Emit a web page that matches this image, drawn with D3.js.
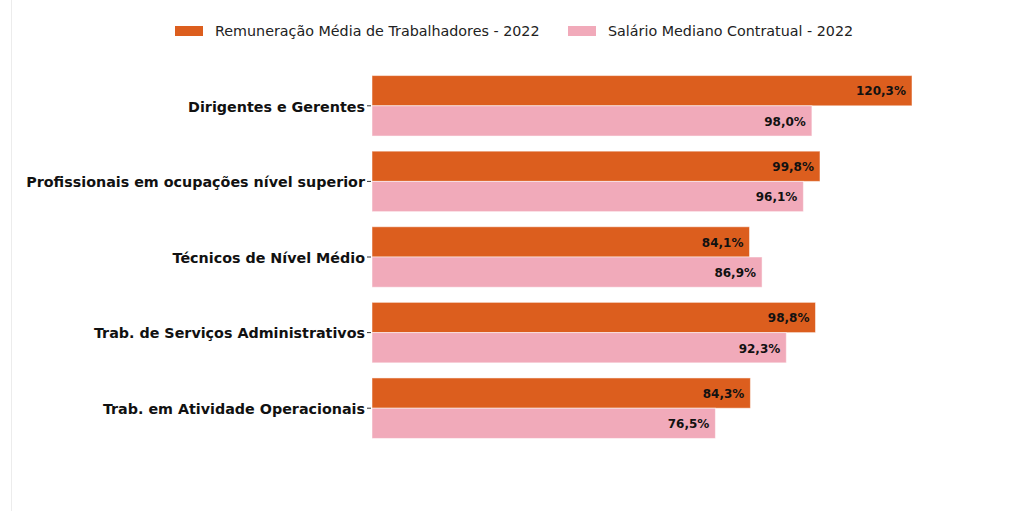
<!DOCTYPE html>
<html><head><meta charset="utf-8">
<script src="https://cdn.jsdelivr.net/npm/d3@7"></script>
<style>body{margin:0;background:#fff;}svg{display:block;font-family:"DejaVu Sans",sans-serif;}</style>
</head><body>
<svg id="c" width="1027" height="511"></svg>
<script>
const categories = ["Dirigentes e Gerentes","Profissionais em ocupações nível superior","Técnicos de Nível Médio","Trab. de Serviços Administrativos","Trab. em Atividade Operacionais"];
const seriesNames = ["Remuneração Média de Trabalhadores - 2022","Salário Mediano Contratual - 2022"];
const remuneracao = [120.3, 99.8, 84.1, 98.8, 84.3];
const salario = [98.0, 96.1, 86.9, 92.3, 76.5];
const colors = ["#DC5E1E", "#F1AABA"];

const svg = d3.select("#c");
svg.append("line").attr("x1",11.5).attr("x2",11.5).attr("y1",0).attr("y2",511).attr("stroke","#ececec");

const x = d3.scaleLinear().domain([0,120.3]).range([372,912]);
const y = d3.scaleBand().domain(categories).range([68,446]).paddingInner(0.2).paddingOuter(0.1);
const sub = d3.scaleBand().domain([0,1]).range([0,y.bandwidth()]);

const yAxis = d3.axisLeft(y).tickSize(4).tickPadding(2);
const gy = svg.append("g").attr("transform","translate(371,0)").call(yAxis)
  .attr("font-family","'DejaVu Sans', sans-serif");
gy.select(".domain").remove();
gy.selectAll("line").attr("stroke","#333");
gy.selectAll("text").attr("font-size",14.3).attr("font-weight","bold").attr("fill","#111").attr("dy","0.4em");

const series = [remuneracao, salario];
series.forEach((vals,si)=>{
  const g = svg.append("g");
  g.selectAll("rect").data(vals).join("rect")
    .attr("x",x(0))
    .attr("y",(d,i)=>y(categories[i])+sub(si))
    .attr("width",d=>x(d)-x(0))
    .attr("height",sub.bandwidth())
    .attr("fill",colors[si])
    .attr("stroke","rgba(255,255,255,0.5)").attr("stroke-width",1);
  g.selectAll("text").data(vals).join("text")
    .attr("x",d=>x(d)-6)
    .attr("y",(d,i)=>y(categories[i])+sub(si)+sub.bandwidth()/2)
    .attr("dy","0.4em")
    .attr("text-anchor","end")
    .attr("font-size",12).attr("font-weight","bold").attr("fill","#111")
    .text(d=>d3.format(".1f")(d).replace(".",",")+"%");
});

const legX = [175, 568];
seriesNames.forEach((n,i)=>{
  svg.append("rect").attr("x",legX[i]).attr("y",26).attr("width",28).attr("height",10).attr("fill",colors[i]);
  svg.append("text").attr("x",legX[i]+40).attr("y",31).attr("dy","0.35em").attr("font-size",14.3).attr("fill","#222").text(n);
});
</script>
</body></html>
